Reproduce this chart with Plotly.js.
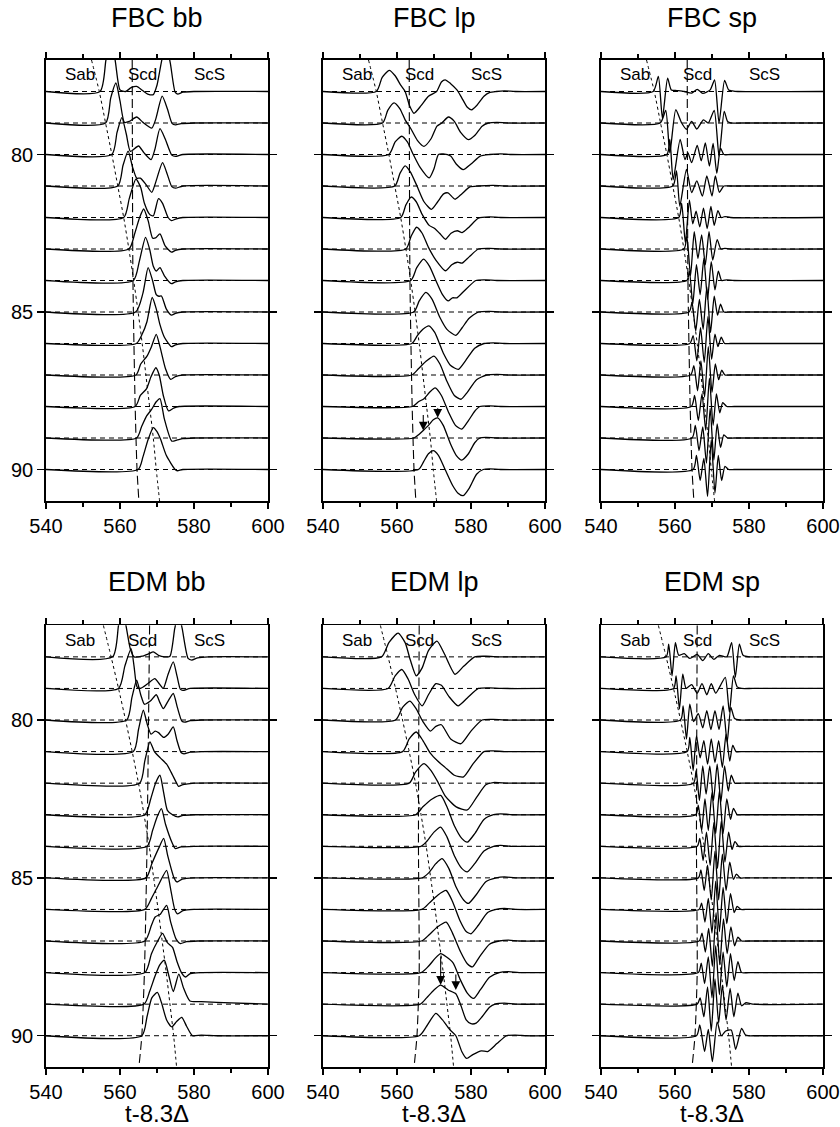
<!DOCTYPE html>
<html>
<head>
<meta charset="utf-8">
<script src="https://cdn.plot.ly/plotly-3.0.1.min.js"></script>
<style>
  html, body { margin: 0; padding: 0; background: #fff; }
  #chart { width: 840px; height: 1127px; }
</style>
</head>
<body>
<div id="chart"></div>
<script>
// Epicentral distances (deg) of the traces in every record section
const distances = [78, 79, 80, 81, 82, 83, 84, 85, 86, 87, 88, 89, 90];
const xTicks = [540, 560, 580, 600];
const xMinorTicks = [550, 570, 590];
const yTicks = [80, 85, 90];
const phaseNames = ['Sab', 'Scd', 'ScS'];

// Travel-time curves (reduced time t-8.3Δ, s) against distance
const sabDist = [77, 78, 79, 80, 81, 82, 83, 84, 85, 86, 87, 88, 89, 90, 91];
const fbcSab = [552.3, 554.4, 556.1, 557.8, 559.4, 561.0, 562.4, 563.7, 564.9, 566.0, 567.0, 568.0, 569.0, 569.8, 570.7];
const edmSab = [555.5, 557.6, 559.6, 561.5, 563.3, 565.0, 566.5, 567.9, 569.1, 570.3, 571.4, 572.5, 573.5, 574.5, 575.3];
const scdDist = [77, 84, 88, 90, 91];
const fbcScd = [563.3, 563.5, 564.1, 564.6, 565.1];
const edmScdBB = [568.0, 567.3, 566.6, 565.9, 565.1];
const edmScd = [566.0, 565.8, 566.0, 565.4, 564.6];

// Waveforms: one list of [time, amplitude] knots per distance (amplitude in trace spacings, up positive)
const fbcBB = [
  [[554.6,0],[556.2,1.0],[557.3,1.5],[558.6,1.05],[560.0,0.05],[561.5,0.0],[563.0,0.12],[564.5,0.16],[566.0,0.04],[567.5,-0.08],[569.0,-0.1],[570.0,0.2],[571.5,1.1],[572.6,1.4],[573.6,0.9],[574.9,-0.02],[575.6,-0.08],[577.0,-0.02],[580.0,0]],
  [[556.1,0],[557.5,0.8],[558.9,1.27],[560.0,0.7],[561.2,0.02],[562.5,0.05],[564.5,0.19],[566.2,0.02],[568.6,-0.16],[569.6,0.1],[571.4,0.85],[572.8,0.45],[574.1,-0.02],[575.0,-0.06],[576.5,-0.02],[580.0,0]],
  [[557.8,0],[559.2,0.7],[560.5,1.17],[561.7,0.65],[562.8,0.1],[565.0,0.27],[566.5,0.05],[568.4,-0.16],[569.4,0.15],[570.8,0.82],[572.2,0.5],[574.0,-0.02],[575.0,-0.06],[577.0,0]],
  [[559.4,0],[560.8,0.65],[562.2,1.11],[563.4,0.6],[564.5,0.25],[565.5,0.25],[567.0,0.05],[568.6,-0.2],[569.6,0.1],[571.5,0.74],[572.7,0.4],[574.0,-0.02],[575.0,-0.07],[577.0,0]],
  [[561.0,0],[562.5,0.6],[564.3,1.22],[565.6,0.95],[566.6,0.45],[568.0,0.1],[569.0,0.05],[570.4,0.6],[571.5,0.45],[573.0,0.0],[573.9,-0.1],[575.0,-0.05],[577.0,0]],
  [[562.4,0],[564.0,0.5],[565.3,1.0],[566.4,1.27],[567.6,0.9],[568.8,0.35],[569.6,0.35],[570.8,0.48],[572.2,0.1],[573.9,-0.1],[575.0,-0.04],[577.0,0]],
  [[563.6,0],[565.2,0.6],[566.9,1.37],[568.0,1.0],[569.0,0.45],[569.8,0.3],[570.8,0.41],[572.0,0.15],[573.9,-0.1],[575.0,-0.04],[577.0,0]],
  [[564.2,0],[566.2,0.6],[567.6,1.41],[568.8,1.0],[569.8,0.55],[570.5,0.5],[571.2,0.51],[572.5,0.1],[573.9,-0.1],[575.0,-0.04],[577.0,0]],
  [[564.4,0],[566.0,0.3],[567.3,0.7],[568.7,1.46],[569.8,1.1],[570.8,0.6],[572.0,0.2],[573.9,-0.1],[575.0,-0.04],[577.0,0]],
  [[564.3,0],[565.6,0.35],[567.3,0.6],[568.5,0.9],[569.8,1.29],[570.8,0.9],[572.3,0.2],[573.7,-0.14],[575.0,-0.05],[577.0,0]],
  [[564.1,0],[565.5,0.35],[567.2,0.57],[568.4,0.95],[569.7,1.23],[570.6,1.0],[571.7,0.35],[573.1,-0.14],[574.5,-0.05],[576.0,0]],
  [[564.5,0],[565.8,0.35],[567.2,0.7],[568.5,0.9],[569.8,1.15],[570.8,1.25],[572.0,0.6],[574.0,-0.1],[575.5,-0.06],[577.0,-0.02],[580.0,0]],
  [[564.9,0],[566.2,0.4],[567.6,0.95],[569.0,1.33],[570.0,1.2],[571.0,0.95],[572.5,0.45],[574.9,0.0],[575.5,-0.04],[577.0,0]]
];

const fbcLP = [
  [[554.4,0],[556.0,0.45],[557.9,0.67],[559.5,0.5],[561.0,0.2],[562.2,0.0],[563.4,-0.45],[564.6,-0.69],[566.5,-0.45],[568.5,-0.15],[570.7,0.0],[572.0,0.3],[573.0,0.37],[574.5,0.25],[576.2,0.05],[577.5,-0.2],[579.0,-0.5],[580.2,-0.58],[581.5,-0.45],[583.5,-0.15],[585.1,-0.03],[586.8,0.0],[589.0,0.02],[592.0,0]],
  [[556.1,0],[557.5,0.4],[559.2,0.64],[560.8,0.45],[562.2,0.1],[563.6,-0.15],[565.5,-0.55],[567.3,-0.74],[569.2,-0.5],[570.8,-0.1],[572.1,0.0],[573.9,0.19],[575.5,0.05],[577.2,-0.3],[579.3,-0.53],[581.0,-0.4],[583.0,-0.1],[584.7,0],[587.0,0.02],[590.0,0]],
  [[557.8,0],[559.5,0.4],[561.3,0.58],[562.8,0.4],[564.2,0.05],[566.2,-0.4],[568.7,-0.74],[570.0,-0.45],[571.2,0.0],[572.5,0.02],[574.5,-0.05],[576.0,-0.3],[577.9,-0.48],[580.0,-0.3],[582.5,-0.05],[585.0,0],[588.0,0.02],[591.0,0]],
  [[559.4,0],[560.8,0.4],[562.2,0.64],[563.6,0.45],[565.4,0.0],[567.3,-0.5],[569.3,-0.74],[571.0,-0.5],[572.6,-0.25],[573.8,-0.22],[575.7,-0.42],[577.5,-0.25],[579.7,-0.03],[582.0,0],[586.0,0.02],[589.0,0]],
  [[561.0,0],[562.4,0.4],[563.8,0.65],[565.2,0.5],[566.8,0.1],[568.7,-0.25],[570.2,-0.35],[571.5,-0.5],[573.1,-0.69],[574.6,-0.5],[576.3,-0.42],[577.6,-0.48],[579.5,-0.3],[582.0,-0.02],[585.0,0.02],[588.0,0]],
  [[562.4,0],[563.8,0.4],[565.3,0.69],[566.8,0.5],[568.5,0.05],[570.5,-0.35],[573.1,-0.69],[574.8,-0.5],[576.3,-0.42],[577.6,-0.45],[579.5,-0.25],[582.0,0],[585.0,0.02],[588.0,0]],
  [[563.7,0],[565.3,0.4],[567.2,0.68],[568.8,0.45],[570.5,0.0],[572.3,-0.45],[573.8,-0.65],[575.0,-0.55],[576.2,-0.55],[578.0,-0.35],[581.3,0],[584.0,0.02],[587.0,0]],
  [[564.5,0],[566.0,0.35],[567.8,0.62],[569.5,0.4],[571.5,-0.15],[573.5,-0.55],[575.9,-0.74],[577.6,-0.5],[579.5,-0.2],[582.0,0],[585.0,0.02],[588.0,0]],
  [[564.0,0],[565.5,0.25],[567.0,0.45],[568.6,0.56],[570.2,0.35],[572.5,-0.3],[574.5,-0.7],[576.6,-0.82],[578.5,-0.55],[581.0,-0.15],[583.5,0],[586.0,0.02],[589.0,0]],
  [[564.0,0],[565.8,0.2],[568.0,0.45],[570.0,0.6],[571.6,0.35],[573.5,-0.2],[575.5,-0.65],[577.3,-0.77],[579.0,-0.55],[581.5,-0.15],[584.2,0],[587.0,0.02],[590.0,0]],
  [[564.2,0],[565.8,0.15],[567.3,0.25],[568.8,0.45],[570.3,0.59],[572.0,0.35],[574.0,-0.2],[575.8,-0.6],[577.5,-0.72],[579.3,-0.45],[581.0,-0.15],[582.4,0],[585.0,0.02],[588.0,0]],
  [[564.6,0],[566.0,0.12],[567.1,0.24],[568.5,0.4],[569.8,0.58],[571.0,0.64],[572.5,0.4],[574.5,-0.2],[576.0,-0.55],[577.5,-0.7],[579.3,-0.5],[581.0,-0.15],[582.4,0],[584.0,0.02],[587.0,0]],
  [[565.8,0],[567.2,0.25],[568.5,0.5],[569.8,0.6],[571.2,0.45],[573.0,0.0],[575.0,-0.5],[576.5,-0.75],[577.9,-0.83],[579.5,-0.6],[581.5,-0.15],[583.3,0],[585.0,0.02],[588.0,0]]
];

const fbcSP = [
  [[554.1,0],[555.5,0.48],[556.6,-0.85],[558.0,0.42],[559.0,0.05],[560.5,0.03],[562.5,0.0],[564.5,-0.05],[566.0,0.07],[567.5,-0.06],[569.5,0.05],[570.7,0.37],[571.9,-1.0],[573.4,0.35],[574.5,0.05],[575.5,0.02],[577.0,0]],
  [[556.0,0],[557.5,0.4],[558.6,-0.95],[560.2,0.42],[561.8,0.0],[563.1,-0.2],[564.5,0.05],[565.9,-0.19],[567.7,0.1],[569.0,0.0],[570.6,0.4],[571.9,-1.05],[573.3,0.37],[574.2,0.05],[575.1,0],[578.0,0]],
  [[557.8,0],[558.6,0.48],[559.5,-0.8],[561.4,0.48],[562.7,-0.16],[563.5,0.05],[564.5,-0.26],[566.0,0.29],[567.1,-0.2],[568.2,0.37],[569.3,-0.37],[570.3,0.35],[571.3,-0.6],[572.3,0.2],[573.2,0.0],[575.0,0]],
  [[559.4,0],[560.4,0.48],[561.3,-0.64],[563.1,0.53],[564.5,-0.21],[565.9,0.16],[567.4,-0.32],[568.6,0.32],[570.0,-0.32],[570.9,0.32],[572.0,-0.2],[573.2,0.0],[575.0,0]],
  [[561.0,0],[561.8,0.45],[562.8,-0.8],[563.9,0.55],[564.8,-0.2],[565.7,0.2],[566.7,-0.3],[567.7,0.3],[568.7,-0.35],[569.7,0.35],[570.6,-0.25],[571.6,0.22],[572.5,0.0],[573.5,0.03],[575.0,0]],
  [[562.4,0],[563.2,0.4],[564.2,-0.85],[565.2,0.55],[566.2,-0.3],[567.2,0.45],[568.2,-0.5],[569.2,0.55],[570.2,-0.35],[571.4,0.3],[572.4,0.0],[573.5,0.02],[575.0,0]],
  [[563.2,0],[563.9,0.3],[564.8,-0.75],[565.8,0.5],[566.8,-0.45],[567.8,0.7],[568.8,-0.6],[569.8,0.6],[570.8,-0.3],[571.7,0.3],[572.6,0.0],[574.0,0.02],[576.0,0]],
  [[563.8,0],[564.6,0.3],[565.6,-0.6],[566.6,0.4],[567.6,-0.55],[568.6,0.8],[569.6,-0.65],[570.6,0.5],[571.5,-0.1],[572.3,0.25],[573.2,0.0],[575.0,0]],
  [[564.0,0],[564.9,0.25],[565.9,-0.55],[566.9,0.5],[567.9,-0.6],[568.9,0.85],[569.9,-0.5],[570.8,0.3],[571.6,-0.1],[572.5,0.2],[573.4,0.0],[575.0,0]],
  [[564.2,0],[565.1,0.3],[566.1,-0.5],[567.0,0.45],[568.0,-0.7],[569.0,0.9],[570.0,-0.55],[570.9,0.35],[571.8,-0.15],[572.6,0.15],[573.5,0],[575.0,0]],
  [[564.4,0],[565.3,0.35],[566.3,-0.45],[567.3,0.4],[568.3,-0.75],[569.3,0.9],[570.3,-0.6],[571.2,0.4],[572.1,-0.2],[572.9,0.12],[574.0,0],[576.0,0]],
  [[564.6,0],[565.5,0.4],[566.5,-0.4],[567.5,0.35],[568.5,-0.8],[569.5,0.95],[570.5,-0.7],[571.4,0.45],[572.3,-0.3],[573.2,0.1],[574.2,0],[576.0,0]],
  [[564.9,0],[565.8,0.45],[566.8,-0.35],[567.8,0.35],[568.8,-0.85],[569.8,0.95],[570.8,-0.75],[571.7,0.45],[572.6,-0.35],[573.5,0.1],[574.5,0],[576.0,0]]
];

const edmBB = [
  [[558.0,0],[559.6,1.0],[560.6,1.5],[561.6,1.0],[562.8,0.25],[563.8,0.0],[566.0,0.02],[567.8,0.1],[569.0,0.16],[570.4,0.05],[572.0,0.0],[573.5,0.02],[574.8,0.9],[575.8,1.4],[576.8,0.9],[578.4,-0.05],[579.4,-0.1],[581.0,-0.03],[584.0,0]],
  [[559.6,0],[561.3,0.7],[563.0,1.26],[563.8,0.7],[564.6,0.05],[565.5,0.0],[567.5,0.15],[569.4,0.31],[570.6,0.15],[571.7,0.0],[573.0,0.45],[574.4,0.84],[575.4,0.4],[576.3,-0.02],[577.0,-0.06],[579.0,0]],
  [[561.8,0],[563.2,0.7],[564.5,1.26],[565.6,0.8],[566.6,0.5],[568.2,0.6],[569.8,0.8],[570.8,0.55],[571.7,0.36],[573.0,0.6],[574.4,0.84],[575.5,0.4],[576.7,-0.03],[577.5,-0.07],[579.0,-0.02],[582.0,0]],
  [[563.6,0],[565.0,0.7],[566.3,1.31],[567.4,0.85],[568.4,0.55],[569.5,0.65],[570.4,0.6],[571.8,0.45],[573.0,0.55],[574.4,0.78],[575.4,0.35],[576.5,-0.03],[577.3,-0.07],[579.0,-0.02],[582.0,0]],
  [[565.3,0],[566.7,0.7],[568.1,1.31],[569.3,1.0],[570.9,0.8],[572.6,0.6],[573.8,0.35],[575.3,0.0],[575.8,-0.1],[577.0,-0.05],[580.0,0]],
  [[566.7,0],[568.3,0.5],[569.6,1.0],[570.8,1.25],[571.8,0.7],[572.8,0.14],[574.2,0.0],[575.6,-0.07],[577.0,-0.02],[580.0,0]],
  [[567.3,0],[568.8,0.5],[570.1,0.95],[571.2,1.19],[572.3,0.7],[574.2,0.08],[574.9,-0.07],[576.5,-0.02],[580.0,0]],
  [[567.0,0],[568.6,0.45],[570.5,0.95],[571.8,1.25],[572.9,0.7],[574.6,0.0],[575.4,-0.13],[576.8,-0.04],[580.0,0]],
  [[566.7,0],[568.5,0.35],[570.5,0.8],[572.6,1.24],[573.6,0.7],[574.8,0.0],[575.6,-0.14],[577.0,-0.04],[580.0,0]],
  [[566.7,0],[568.5,0.5],[569.5,0.76],[570.9,0.85],[572.6,1.13],[573.7,0.6],[575.2,0.05],[576.3,-0.08],[578.0,-0.02],[581.0,0]],
  [[566.7,0],[568.5,0.6],[570.2,1.0],[571.5,1.24],[572.8,0.95],[574.2,0.8],[575.4,0.35],[576.6,0.0],[577.7,-0.14],[579.0,-0.03],[582.0,0]],
  [[566.5,0],[568.0,0.4],[569.5,0.9],[570.8,1.25],[572.0,1.39],[573.2,0.9],[574.4,0.4],[575.9,0.95],[577.2,0.5],[578.9,0.1],[582.0,0.08],[590.0,0.04],[600.0,0.0]],
  [[565.9,0],[567.3,0.6],[568.6,1.2],[570.1,1.37],[571.2,1.05],[572.6,0.5],[574.0,0.28],[575.3,0.45],[576.7,0.58],[578.0,0.3],[579.6,0.0],[582.0,0.02],[586.0,0]]
];

const edmLP = [
  [[555.8,0],[557.8,0.45],[560.3,0.75],[562.2,0.45],[563.6,-0.1],[565.2,-0.6],[566.8,-0.35],[568.5,0.2],[570.8,0.5],[572.8,0.1],[575.7,-0.55],[578.0,-0.3],[581.0,0],[584.0,0.02],[588.0,0]],
  [[557.6,0],[559.5,0.4],[561.3,0.6],[563.0,0.3],[564.8,-0.2],[566.8,-0.55],[568.5,-0.2],[570.5,0.15],[572.0,0.1],[574.0,-0.25],[576.5,-0.55],[579.0,-0.3],[582.0,0],[585.0,0.02],[588.0,0]],
  [[559.6,0],[561.5,0.4],[563.5,0.6],[565.2,0.35],[567.0,-0.05],[569.0,-0.35],[570.5,-0.2],[572.0,-0.15],[574.5,-0.6],[577.3,-0.75],[580.0,-0.35],[583.0,0],[586.0,0.02],[589.0,0]],
  [[561.5,0],[563.3,0.4],[565.2,0.62],[567.0,0.35],[569.0,-0.05],[571.0,-0.3],[573.0,-0.5],[575.5,-0.75],[578.0,-0.8],[580.5,-0.4],[583.5,0],[586.0,0.02],[589.0,0]],
  [[563.3,0],[565.0,0.35],[567.3,0.62],[569.2,0.4],[571.0,0.05],[573.0,-0.4],[576.0,-0.75],[579.0,-0.85],[581.5,-0.45],[584.0,-0.05],[586.0,0.02],[590.0,0]],
  [[565.0,0],[567.0,0.25],[569.5,0.5],[571.8,0.61],[573.5,0.25],[575.5,-0.35],[577.5,-0.75],[579.0,-0.87],[581.0,-0.6],[583.5,-0.15],[586.1,0],[588.0,0.03],[591.0,0]],
  [[566.5,0],[568.0,0.15],[570.0,0.45],[571.8,0.61],[573.5,0.3],[575.5,-0.3],[577.5,-0.7],[579.0,-0.81],[581.0,-0.55],[583.5,-0.15],[586.1,0],[588.0,0.03],[591.0,0]],
  [[566.8,0],[568.5,0.15],[570.5,0.45],[572.2,0.61],[574.0,0.3],[576.0,-0.3],[578.0,-0.7],[579.3,-0.81],[581.3,-0.55],[584.0,-0.12],[586.8,0],[589.0,0.03],[592.0,0]],
  [[566.7,0],[568.7,0.2],[571.0,0.45],[573.3,0.6],[575.0,0.25],[577.0,-0.35],[578.7,-0.7],[580.0,-0.77],[582.0,-0.5],[584.5,-0.1],[586.8,0],[589.0,0.03],[592.0,0]],
  [[566.6,0],[568.7,0.2],[571.0,0.45],[573.3,0.6],[575.0,0.25],[577.2,-0.35],[579.0,-0.72],[580.4,-0.82],[582.3,-0.5],[585.0,-0.1],[587.6,0],[590.0,0.03],[593.0,0]],
  [[566.5,0],[568.5,0.2],[570.3,0.45],[571.8,0.6],[573.3,0.5],[575.2,0.3],[577.0,-0.2],[579.0,-0.65],[580.7,-0.82],[582.5,-0.55],[585.0,-0.15],[587.6,0],[590.0,0.03],[593.0,0]],
  [[566.3,0],[568.0,0.2],[570.0,0.45],[571.8,0.6],[573.8,0.45],[575.9,0.33],[577.3,-0.05],[578.7,-0.5],[580.0,-0.62],[581.4,-0.6],[583.0,-0.4],[585.0,-0.1],[586.5,0],[589.0,0.03],[592.0,0]],
  [[566.0,0],[568.0,0.3],[570.5,0.71],[572.3,0.5],[574.2,0.2],[575.9,0.0],[577.5,-0.5],[578.8,-0.72],[580.5,-0.6],[582.8,-0.48],[584.5,-0.5],[587.0,-0.25],[589.6,0],[592.0,0.02],[595.0,0]]
];

const edmSP = [
  [[557.6,0],[558.3,0.4],[559.2,-0.6],[560.1,0.45],[561.0,0.05],[562.5,0.1],[564.0,-0.05],[566.0,0.08],[567.5,-0.12],[569.0,0.1],[570.5,-0.08],[572.0,0.05],[574.0,0.0],[575.3,0.45],[576.3,-0.65],[577.4,0.4],[578.4,0.05],[580.0,0.0],[583.0,0]],
  [[559.6,0],[560.3,0.4],[561.2,-0.65],[562.1,0.45],[563.0,0.0],[564.5,0.12],[566.0,-0.15],[567.3,0.15],[568.6,-0.2],[569.8,0.15],[571.0,-0.15],[572.3,0.1],[573.6,0.35],[574.7,-0.75],[575.8,0.4],[576.8,0.05],[578.0,0],[581.0,0]],
  [[561.5,0],[562.2,0.45],[563.1,-0.6],[564.0,0.5],[565.0,-0.05],[566.3,0.2],[567.5,-0.25],[568.6,0.3],[569.7,-0.3],[570.8,0.3],[571.9,-0.3],[573.0,0.45],[574.1,-0.7],[575.1,0.4],[576.1,0.05],[577.5,0],[580.0,0]],
  [[563.3,0],[564.0,0.45],[564.9,-0.6],[565.8,0.5],[566.8,-0.2],[567.8,0.35],[568.8,-0.4],[569.8,0.4],[570.8,-0.35],[571.8,0.35],[572.8,-0.5],[573.8,0.55],[574.8,-0.3],[575.6,0.2],[576.5,0.0],[578.0,0],[581.0,0]],
  [[565.0,0],[565.7,0.4],[566.6,-0.55],[567.5,0.55],[568.4,-0.35],[569.4,0.55],[570.4,-0.55],[571.4,0.6],[572.4,-0.6],[573.4,0.55],[574.4,-0.25],[575.2,0.25],[576.2,0.0],[578.0,0],[581.0,0]],
  [[565.6,0],[566.3,0.3],[567.2,-0.5],[568.1,0.5],[569.0,-0.5],[570.0,0.7],[571.0,-0.6],[572.0,0.75],[573.0,-0.6],[574.0,0.5],[575.0,-0.15],[575.8,0.2],[576.8,0.0],[578.0,0],[581.0,0]],
  [[566.0,0],[566.7,0.25],[567.6,-0.45],[568.5,0.45],[569.5,-0.6],[570.5,0.75],[571.5,-0.7],[572.5,0.8],[573.5,-0.5],[574.5,0.45],[575.4,-0.1],[576.2,0.15],[577.2,0.0],[579.0,0],[582.0,0]],
  [[566.3,0],[567.0,0.25],[567.9,-0.4],[568.8,0.4],[569.8,-0.7],[570.8,0.85],[571.8,-0.7],[572.8,0.75],[573.8,-0.4],[574.8,0.5],[575.8,-0.05],[576.6,0.12],[577.6,0.0],[579.0,0],[582.0,0]],
  [[566.5,0],[567.2,0.2],[568.1,-0.4],[569.0,0.35],[570.0,-0.75],[571.0,0.9],[572.0,-0.7],[573.0,0.7],[574.0,-0.45],[575.0,0.5],[576.0,-0.1],[576.8,0.1],[577.8,0.0],[579.0,0],[582.0,0]],
  [[566.5,0],[567.3,0.25],[568.2,-0.35],[569.1,0.4],[570.1,-0.8],[571.1,0.9],[572.1,-0.75],[573.1,0.7],[574.1,-0.4],[575.1,0.45],[576.1,-0.15],[577.0,0.12],[578.0,0.0],[580.0,0]],
  [[566.3,0],[567.1,0.3],[568.0,-0.35],[569.0,0.5],[570.0,-0.8],[571.0,0.85],[572.0,-0.7],[573.0,0.65],[574.0,-0.45],[575.0,0.6],[576.0,-0.25],[577.0,0.35],[578.0,0.0],[580.0,0]],
  [[566.0,0],[566.8,0.2],[567.8,-0.4],[568.8,0.55],[569.8,-0.85],[570.8,0.8],[571.8,-0.6],[572.8,0.6],[573.8,-0.5],[574.9,0.5],[575.9,-0.4],[577.0,0.35],[578.0,-0.05],[579.2,0.05],[581.0,0]],
  [[565.8,0],[566.7,0.34],[568.0,-0.5],[569.0,0.2],[570.1,-0.82],[571.4,0.44],[572.5,0.0],[573.7,0.15],[575.2,0.18],[576.4,-0.43],[578.0,0.23],[579.0,0.03],[579.8,0],[582.0,0]]
];

// Picked onsets marked with arrows on the 89° long-period traces: [time, amplitude]
const fbcPicks = [[567.1, 0.24], [571.0, 0.64]];
const edmPicks = [[571.8, 0.61], [575.9, 0.45]];
const pickDistance = 89;

// ---------------------------------------------------------------------------
const FONT = 'Liberation Sans, Arial, Helvetica, sans-serif';
const W = 840, H = 1127;
const colPx = [[46, 268], [323, 545], [601, 823]];
const rowPx = [[60, 501], [625.3, 1067.3]];

const panels = [
  { title: 'FBC bb', waves: fbcBB, sab: fbcSab, scd: fbcScd, row: 0, col: 0 },
  { title: 'FBC lp', waves: fbcLP, sab: fbcSab, scd: fbcScd, row: 0, col: 1, picks: fbcPicks, pickLen: [17, 11] },
  { title: 'FBC sp', waves: fbcSP, sab: fbcSab, scd: fbcScd, row: 0, col: 2 },
  { title: 'EDM bb', waves: edmBB, sab: edmSab, scd: edmScdBB, row: 1, col: 0 },
  { title: 'EDM lp', waves: edmLP, sab: edmSab, scd: edmScd, row: 1, col: 1, picks: edmPicks, pickLen: [30, 17] },
  { title: 'EDM sp', waves: edmSP, sab: edmSab, scd: edmScd, row: 1, col: 2 }
];

const data = [];
const shapes = [];
const annotations = [];
const layout = {
  width: W, height: H,
  margin: { l: 0, r: 0, t: 0, b: 0, pad: 0 },
  paper_bgcolor: '#fff', plot_bgcolor: '#fff',
  showlegend: false,
  font: { family: FONT, color: '#000' }
};

const labelTimes = [549.2, 566.1, 584.3];

panels.forEach((p, i) => {
  const s = i === 0 ? '' : String(i + 1);
  const xr = 'x' + s, yr = 'y' + s;
  const cx = colPx[p.col], ry = rowPx[p.row];

  layout['xaxis' + s] = {
    domain: [cx[0] / W, cx[1] / W], anchor: yr,
    range: [540, 600], fixedrange: true,
    tickmode: 'array', tickvals: xTicks, ticktext: xTicks.map(String),
    ticks: 'outside', ticklen: 6, tickwidth: 1.3, tickcolor: '#000',
    minor: { tickmode: 'array', tickvals: xMinorTicks, ticks: 'outside', ticklen: 4, tickwidth: 1.2, tickcolor: '#000' },
    showline: true, linewidth: 1.8, linecolor: '#000', mirror: 'ticks',
    showgrid: false, zeroline: false,
    tickfont: { family: FONT, size: 20, color: '#000' }
  };
  layout['yaxis' + s] = {
    domain: [1 - ry[1] / H, 1 - ry[0] / H], anchor: xr,
    range: [91, 77], fixedrange: true,
    tickmode: 'array', tickvals: yTicks, ticktext: yTicks.map(String),
    ticks: 'outside', ticklen: 7, tickwidth: 1.3, tickcolor: '#000',
    showticklabels: p.col === 0,
    showline: true, linewidth: 1.8, linecolor: '#000', mirror: 'ticks',
    showgrid: false, zeroline: false,
    tickfont: { family: FONT, size: 20, color: '#000' }
  };

  // dashed zero lines under each trace
  distances.forEach(d => {
    shapes.push({ type: 'line', xref: xr, yref: yr, x0: 540, x1: 600, y0: d, y1: d,
      layer: 'below', line: { color: '#000', width: 1, dash: '5px,4px' } });
  });

  // travel-time curves
  data.push({ x: p.sab, y: sabDist, xaxis: xr, yaxis: yr, mode: 'lines', hoverinfo: 'skip',
    line: { color: '#000', width: 1, dash: '3px,3px', shape: 'spline', smoothing: 0.6 } });
  data.push({ x: p.scd, y: scdDist, xaxis: xr, yaxis: yr, mode: 'lines', hoverinfo: 'skip',
    line: { color: '#000', width: 1.1, dash: '9px,4px', shape: 'spline', smoothing: 0.6 } });

  // seismograms
  p.waves.forEach((knots, k) => {
    const d = distances[k];
    const xs = knots.map(q => q[0]);
    const ys = knots.map(q => d - q[1]);
    if (xs[0] > 540) { xs.unshift(540); ys.unshift(d); }
    if (xs[xs.length - 1] < 600) { xs.push(600); ys.push(d); }
    data.push({ x: xs, y: ys, xaxis: xr, yaxis: yr, mode: 'lines', hoverinfo: 'skip',
      line: { color: '#000', width: 1.3, shape: 'spline', smoothing: 0.6 } });
  });

  // phase labels
  phaseNames.forEach((n, j) => {
    annotations.push({ xref: xr, yref: yr, x: labelTimes[j], y: 77.47, text: n, showarrow: false,
      xanchor: 'center', yanchor: 'middle', font: { family: FONT, size: 17, color: '#000' } });
  });

  // panel title
  annotations.push({ xref: 'paper', yref: 'paper', x: (cx[0] + cx[1]) / 2 / W,
    y: 1 - (p.row === 0 ? 18 : 582) / H, text: p.title, showarrow: false,
    xanchor: 'center', yanchor: 'middle', font: { family: FONT, size: 27, color: '#000' } });

  // x-axis title on the lower row
  if (p.row === 1) {
    annotations.push({ xref: 'paper', yref: 'paper', x: (cx[0] + cx[1]) / 2 / W,
      y: 1 - 1113 / H, text: 't-8.3Δ', showarrow: false,
      xanchor: 'center', yanchor: 'middle', font: { family: FONT, size: 24, color: '#000' } });
  }

  // pick arrows
  if (p.picks) {
    p.picks.forEach((pk, j) => {
      annotations.push({ xref: xr, yref: yr, x: pk[0], y: pickDistance - pk[1], text: '',
        showarrow: true, arrowhead: 2, arrowsize: 1.6, arrowwidth: 1.1, arrowcolor: '#000',
        ax: 0, ay: -p.pickLen[j], standoff: 0 });
    });
  }
});

layout.shapes = shapes;
layout.annotations = annotations;

Plotly.newPlot('chart', data, layout, { staticPlot: true, displayModeBar: false });
</script>
</body>
</html>
